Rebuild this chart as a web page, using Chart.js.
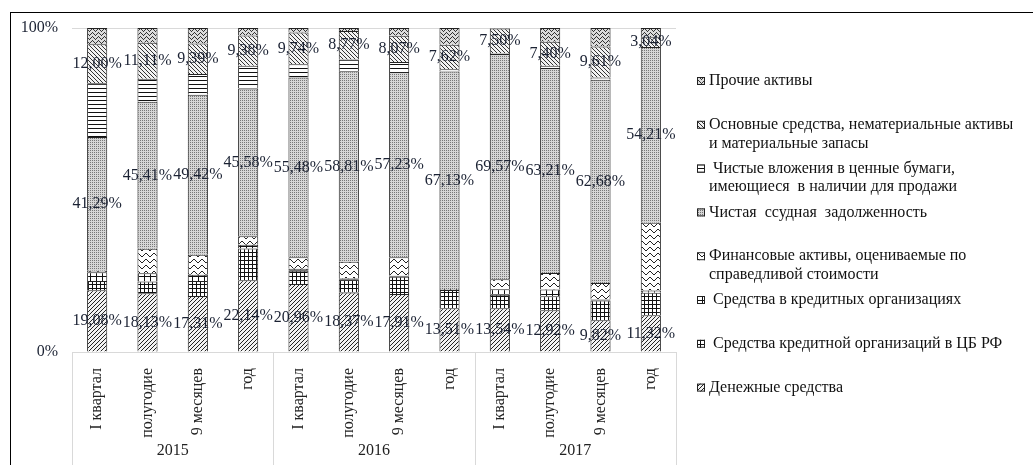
<!DOCTYPE html>
<html lang="ru">
<head>
<meta charset="UTF-8">
<title>Структура активов</title>
<script src="https://cdn.jsdelivr.net/npm/chart.js"></script>
<style>
  body { margin: 0; background: #fff; }
  #wrap { width: 1033px; height: 465px; }
</style>
</head>
<body>
<div id="wrap"><canvas id="grafico" width="1033" height="465"></canvas></div>
<script>
  const periodos = ['I квартал', 'полугодие', '9 месяцев', 'год',
                    'I квартал', 'полугодие', '9 месяцев', 'год',
                    'I квартал', 'полугодие', '9 месяцев', 'год'];
  const anos = ['2015', '2016', '2017'];
  const yTicks = [0, 100];

  // серии снизу вверх, % от активов
  const denezhnye     = [19.08, 18.13, 17.31, 22.14, 20.96, 18.37, 17.91, 13.51, 13.54, 12.92, 9.82, 11.32];
  const sredstvaCB    = [2.8, 3.6, 4.6, 9.8, 4.1, 4.1, 5.3, 5.6, 4.1, 4.3, 6.1, 7.0];
  const kreditOrg     = [2.7, 2.6, 1.9, 1.2, 0.6, 0.3, 0.3, 0.3, 1.7, 2.1, 0.3, 0.7];
  const finAktivy     = [0.5, 7.5, 6.2, 2.6, 3.6, 5.1, 5.7, 0, 3.1, 5.1, 5.1, 20.9];
  const ssudnaya      = [41.29, 45.41, 49.42, 45.58, 55.48, 58.81, 57.23, 67.13, 69.57, 63.21, 62.68, 54.21];
  const tsennyeBumagi = [16.6, 7.1, 6.4, 7.0, 4.1, 3.6, 3.1, 0.7, 0.3, 0.7, 0.7, 0];
  const osnovnye      = [12.00, 11.11, 9.39, 9.38, 9.74, 8.77, 8.07, 7.62, 7.50, 7.40, 9.61, 3.04];
  const prochie       = [5.03, 4.55, 4.78, 2.3, 1.42, 0.95, 2.39, 5.14, 0.19, 4.27, 5.69, 2.83];

  const nomes = [
    ['Денежные средства'],
    [' Средства кредитной организаций в ЦБ РФ'],
    [' Средства в кредитных организациях'],
    ['Финансовые активы, оцениваемые по', 'справедливой стоимости'],
    ['Чистая  ссудная  задолженность'],
    [' Чистые вложения в ценные бумаги,', 'имеющиеся  в наличии для продажи'],
    ['Основные средства, нематериальные активы', 'и материальные запасы'],
    ['Прочие активы']
  ];

  function padrao(w, h, desenhar) {
    const c = document.createElement('canvas');
    c.width = w; c.height = h;
    const g = c.getContext('2d');
    desenhar(g);
    return document.createElement('canvas').getContext('2d').createPattern(c, 'repeat');
  }

  const padroes = [
    padrao(4, 4, g => { g.fillStyle = '#f2f2f2'; g.fillRect(0, 0, 4, 4); g.fillStyle = '#222';
      for (let i = 0; i < 4; i++) g.fillRect(i, 3 - i, 1, 1); }),
    padrao(4, 4, g => { g.fillStyle = '#fff'; g.fillRect(0, 0, 4, 4); g.fillStyle = '#111';
      g.fillRect(0, 0, 4, 1); g.fillRect(0, 0, 1, 4); }),
    padrao(6, 6, g => { g.fillStyle = '#fff'; g.fillRect(0, 0, 6, 6); g.fillStyle = '#111';
      g.fillRect(0, 0, 6, 1); g.fillRect(0, 0, 1, 6); }),
    padrao(8, 6, g => { g.fillStyle = '#fff'; g.fillRect(0, 0, 8, 6); g.fillStyle = '#222';
      [2, 1, 1, 2, 3, 4, 4, 3].forEach((y, x) => g.fillRect(x, y, 1, 1)); }),
    padrao(2, 2, g => { g.fillStyle = '#d6d6d6'; g.fillRect(0, 0, 2, 2); g.fillStyle = '#777';
      g.fillRect(0, 0, 1, 1); }),
    padrao(1, 4, g => { g.fillStyle = '#fff'; g.fillRect(0, 0, 1, 4); g.fillStyle = '#111';
      g.fillRect(0, 0, 1, 1); }),
    padrao(4, 4, g => { g.fillStyle = '#f2f2f2'; g.fillRect(0, 0, 4, 4); g.fillStyle = '#333';
      for (let i = 0; i < 4; i++) g.fillRect(i, i, 1, 1); }),
    padrao(6, 4, g => { g.fillStyle = '#dcdcdc'; g.fillRect(0, 0, 6, 4); g.fillStyle = '#333';
      [2, 1, 0, 1, 2, 3].forEach((y, x) => g.fillRect(x, y, 1, 1)); })
  ];

  const series = [denezhnye, sredstvaCB, kreditOrg, finAktivy, ssudnaya, tsennyeBumagi, osnovnye, prochie];
  const comRotulo = [true, false, false, false, true, false, true, false];

  const fonte = 'Liberation Serif, Times New Roman, serif';

  const extras = {
    id: 'extras',
    beforeDraw(chart) {
      const ctx = chart.ctx;
      ctx.save();
      ctx.strokeStyle = '#000';
      ctx.lineWidth = 1;
      ctx.strokeRect(10.5, 12.5, 2000, 2000);
      ctx.restore();
    },
    afterDraw(chart) {
      const ctx = chart.ctx;
      const area = chart.chartArea;
      ctx.save();
      // разделители годов и подписи
      ctx.strokeStyle = '#d9d9d9';
      ctx.lineWidth = 1;
      const passo = (area.right - area.left) / anos.length;
      for (let i = 0; i <= anos.length; i++) {
        const px = Math.round(area.left + passo * i) + 0.5;
        ctx.beginPath();
        ctx.moveTo(px, area.bottom);
        ctx.lineTo(px, chart.height);
        ctx.stroke();
      }
      ctx.fillStyle = '#222';
      ctx.font = '16px ' + fonte;
      ctx.textAlign = 'center';
      ctx.textBaseline = 'middle';
      anos.forEach((a, i) => ctx.fillText(a, area.left + passo * (i + 0.5), 451));

      // подписи данных
      ctx.fillStyle = '#1b2233';
      chart.data.datasets.forEach((ds, di) => {
        if (!comRotulo[di]) return;
        chart.getDatasetMeta(di).data.forEach((el, i) => {
          const v = ds.data[i].toFixed(2).replace('.', ',') + '%';
          ctx.fillText(v, el.x, (el.y + el.base) / 2);
        });
      });

      // легенда
      ctx.textAlign = 'left';
      for (let k = 0; k < nomes.length; k++) {
        const si = nomes.length - 1 - k;
        const cy = 81 + k * 43.8;
        ctx.fillStyle = padroes[si];
        ctx.fillRect(697, cy - 4, 8, 8);
        ctx.strokeStyle = '#222';
        ctx.strokeRect(697.5, cy - 3.5, 7, 7);
        ctx.fillStyle = '#111';
        nomes[si].forEach((linha, j) => ctx.fillText(linha, 709, cy + j * 18.6));
      }
      ctx.restore();
    }
  };

  new Chart(document.getElementById('grafico'), {
    type: 'bar',
    data: {
      labels: periodos,
      datasets: series.map((d, i) => ({
        label: nomes[i].join(' '),
        data: d,
        backgroundColor: padroes[i],
        borderColor: '#222',
        borderWidth: 1,
        barPercentage: 0.4,
        categoryPercentage: 1
      }))
    },
    options: {
      responsive: false,
      animation: false,
      layout: { padding: { top: 28, right: 357, left: 0, bottom: 0 } },
      plugins: { legend: { display: false }, tooltip: { enabled: false } },
      scales: {
        x: {
          stacked: true,
          grid: { display: false },
          border: { display: false },
          ticks: {
            autoSkip: false, minRotation: 90, maxRotation: 90, padding: 8,
            color: '#222', font: { family: fonte, size: 16 }
          },
          afterFit(s) { s.height = 113; }
        },
        y: {
          stacked: true,
          min: 0, max: 100,
          afterBuildTicks(s) { s.ticks = yTicks.map(v => ({ value: v })); },
          grid: { color: '#d9d9d9', drawTicks: false },
          border: { display: false },
          ticks: {
            padding: 14, color: '#1b2233', font: { family: fonte, size: 16 },
            callback: v => v + '%'
          },
          afterFit(s) { s.width = 72; }
        }
      }
    },
    plugins: [extras]
  });
</script>
</body>
</html>
